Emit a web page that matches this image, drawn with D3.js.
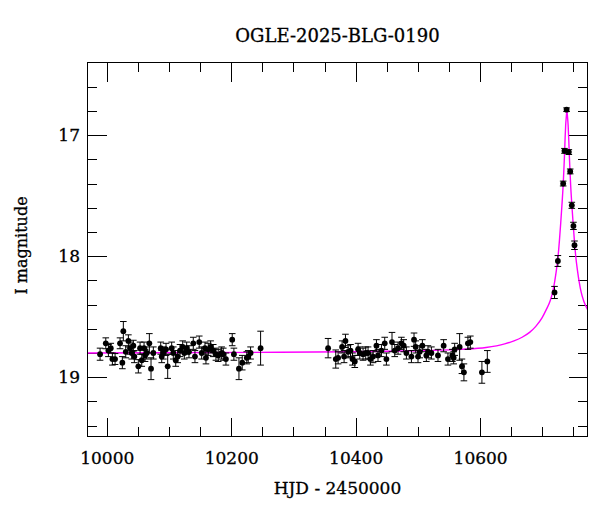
<!DOCTYPE html>
<html>
<head>
<meta charset="utf-8">
<script src="https://cdn.jsdelivr.net/npm/d3@7"></script>
<style>
  html, body { margin: 0; padding: 0; background: #fff; }
  svg { display: block; }
  text { font-family: "DejaVu Serif", "Liberation Serif", serif; fill: #000; stroke: #000; stroke-width: 0.3px; }
</style>
</head>
<body>
<svg id="chart" width="600" height="512"></svg>
<script>
// ---------- data ----------
const title = "OGLE-2025-BLG-0190";
const xLabel = "HJD - 2450000";
const yLabel = "I magnitude";

const xDomain = [9969, 10772.6];
const yDomain = [16.4, 19.49];

const xMajorTicks = [10000, 10200, 10400, 10600];
const xMinorTicks = [10050, 10100, 10150, 10250, 10300, 10350, 10450, 10500, 10550, 10650, 10700, 10750];
const yMajorTicks = [17, 18, 19];
const yMinorTicks = [16.6, 16.8, 17.2, 17.4, 17.6, 17.8, 18.2, 18.4, 18.6, 18.8, 19.2, 19.4];

// observation epochs (HJD - 2450000)
const obsTime = [
  9989.2, 9998.4, 10002.6, 10006.4, 10009.0, 10013.3, 10021.3, 10025.0, 10026.6, 10030.5,
  10034.7, 10037.4, 10040.1, 10042.7, 10044.3, 10050.7, 10053.5, 10056.2, 10059.9, 10061.5,
  10064.2, 10068.4, 10071.1, 10074.8, 10086.7, 10088.3, 10090.9, 10095.2, 10097.9, 10104.3,
  10106.9, 10110.8, 10114.0, 10117.7, 10122.0, 10124.6, 10128.4, 10132.1, 10139.0, 10141.7,
  10148.6, 10152.5, 10157.8, 10159.4, 10163.1, 10166.9, 10171.1, 10175.4, 10179.1, 10184.6,
  10187.2, 10191.5, 10201.6, 10204.3, 10212.4, 10217.7, 10225.0, 10227.3, 10231.1, 10247.2,
  10355.7, 10368.0, 10371.8, 10378.2, 10381.4, 10383.6, 10387.8, 10391.7, 10394.9, 10398.6,
  10403.9, 10406.6, 10411.9, 10416.2, 10419.9, 10423.7, 10427.9, 10433.4, 10435.9, 10441.4,
  10446.7, 10449.4, 10458.4, 10462.8, 10468.1, 10473.5, 10477.2, 10481.5, 10489.6, 10493.8,
  10496.5, 10500.2, 10502.9, 10507.2, 10513.6, 10516.2, 10521.7, 10532.3, 10541.4, 10548.3,
  10555.4, 10557.5, 10559.1, 10567.1, 10570.8, 10574.0, 10580.4, 10584.3, 10602.9, 10611.6,
  10719.6, 10725.0, 10733.5, 10735.6, 10739.0, 10742.6, 10744.8, 10747.4, 10750.0, 10751.7
];
// I-band magnitudes
const obsMag = [
  18.81, 18.72, 18.78, 18.76, 18.85, 18.85, 18.72, 18.88, 18.62, 18.79,
  18.70, 18.76, 18.80, 18.74, 18.83, 18.91, 18.76, 18.86, 18.76, 18.82,
  18.80, 18.72, 18.93, 18.80, 18.76, 18.83, 18.80, 18.77, 18.91, 18.76,
  18.80, 18.86, 18.83, 18.78, 18.75, 18.80, 18.76, 18.79, 18.72, 18.83,
  18.71, 18.80, 18.76, 18.84, 18.77, 18.75, 18.78, 18.81, 18.82, 18.80,
  18.81, 18.85, 18.69, 18.81, 18.93, 18.88, 18.84, 18.83, 18.80, 18.76,
  18.76, 18.85, 18.84, 18.75, 18.83, 18.70, 18.79, 18.78, 18.85, 18.87,
  18.77, 18.80, 18.81, 18.80, 18.80, 18.85, 18.83, 18.74, 18.82, 18.78,
  18.72, 18.85, 18.71, 18.78, 18.76, 18.72, 18.74, 18.80, 18.83, 18.69,
  18.75, 18.83, 18.79, 18.74, 18.82, 18.79, 18.80, 18.82, 18.74, 18.85,
  18.82, 18.84, 18.77, 18.75, 18.91, 18.96, 18.72, 18.71, 18.96, 18.87,
  18.30, 18.04, 17.40, 17.13, 16.79, 17.14, 17.30, 17.58, 17.75, 17.91
];
// 1-sigma errors (mag)
const obsErr = [
  0.05, 0.045, 0.05, 0.04, 0.05, 0.045, 0.045, 0.05, 0.08, 0.05,
  0.05, 0.05, 0.05, 0.045, 0.05, 0.055, 0.05, 0.05, 0.05, 0.05,
  0.05, 0.08, 0.09, 0.05, 0.05, 0.05, 0.05, 0.05, 0.10, 0.05,
  0.05, 0.05, 0.05, 0.05, 0.05, 0.05, 0.05, 0.05, 0.05, 0.05,
  0.05, 0.05, 0.05, 0.05, 0.05, 0.05, 0.05, 0.05, 0.05, 0.05,
  0.05, 0.05, 0.05, 0.05, 0.09, 0.06, 0.05, 0.05, 0.05, 0.14,
  0.08, 0.075, 0.05, 0.05, 0.05, 0.055, 0.05, 0.05, 0.05, 0.05,
  0.05, 0.05, 0.05, 0.05, 0.05, 0.05, 0.05, 0.05, 0.05, 0.05,
  0.05, 0.05, 0.08, 0.05, 0.05, 0.05, 0.05, 0.05, 0.05, 0.055,
  0.05, 0.05, 0.05, 0.05, 0.05, 0.05, 0.05, 0.05, 0.05, 0.05,
  0.05, 0.05, 0.05, 0.11, 0.06, 0.07, 0.05, 0.05, 0.09, 0.09,
  0.05, 0.045, 0.02, 0.02, 0.015, 0.02, 0.02, 0.025, 0.03, 0.035
];

// model light curve, sampled from the plotted curve
const modelTime = [
  9969, 10239.5, 10389.5, 10509.5, 10569.5, 10609.5, 10639.5, 10654.5, 10667.5, 10679.5,
  10689.5, 10699.5, 10706.5, 10712.5, 10716.5, 10719.5, 10722.5, 10725.5, 10727.5, 10729.5,
  10731.5, 10733.5, 10734.5, 10735.5, 10736.5, 10737.5, 10738.5, 10739.5,
  10740.5, 10741.5, 10742.5, 10743.5, 10744.5, 10745.5, 10747.5, 10749.5, 10751.5, 10753.5,
  10756.5, 10759.5, 10762.5, 10766.5, 10772.6
];
const modelMag = [
  18.80, 18.795, 18.79, 18.78, 18.77, 18.755, 18.725, 18.70, 18.67, 18.63,
  18.58, 18.51, 18.44, 18.37, 18.30, 18.22, 18.12, 17.99, 17.87, 17.73,
  17.58, 17.41, 17.30, 17.18, 17.04, 16.92, 16.85, 16.80,
  16.85, 16.92, 17.04, 17.18, 17.30, 17.41, 17.58, 17.73, 17.87, 17.99,
  18.12, 18.22, 18.30, 18.37, 18.44
];

// ---------- drawing ----------
const svg = d3.select("#chart");
const pLeft = 87.5, pRight = 587.5, pTop = 62.5, pBottom = 436.5;

const x = d3.scaleLinear().domain(xDomain).range([pLeft, pRight]);
const y = d3.scaleLinear().domain(yDomain).range([pTop, pBottom]);

svg.append("defs").append("clipPath").attr("id", "clip")
  .append("rect").attr("x", pLeft).attr("y", pTop)
  .attr("width", pRight - pLeft).attr("height", pBottom - pTop);

const FONT = 17;

function styleAxis(g) {
  g.select(".domain").remove();
  g.selectAll(".tick line").attr("stroke", "#000").attr("shape-rendering", "crispEdges");
  g.selectAll(".tick text").style("font-family", '"DejaVu Serif", serif').style("font-size", FONT + "px")
    .attr("fill", "#000").attr("stroke", "#000").attr("stroke-width", 0.3);
}

svg.append("g").attr("transform", `translate(0,${pBottom})`)
  .call(d3.axisBottom(x).tickValues(xMajorTicks).tickSize(-19).tickPadding(15).tickFormat(d3.format("d")))
  .call(styleAxis);
svg.append("g").attr("transform", `translate(0,${pBottom})`)
  .call(d3.axisBottom(x).tickValues(xMinorTicks).tickSize(-9.5).tickFormat(""))
  .call(styleAxis);
svg.append("g").attr("transform", `translate(0,${pTop})`)
  .call(d3.axisTop(x).tickValues(xMajorTicks).tickSize(-19).tickFormat(""))
  .call(styleAxis);
svg.append("g").attr("transform", `translate(0,${pTop})`)
  .call(d3.axisTop(x).tickValues(xMinorTicks).tickSize(-9.5).tickFormat(""))
  .call(styleAxis);

svg.append("g").attr("transform", `translate(${pLeft},0)`)
  .call(d3.axisLeft(y).tickValues(yMajorTicks).tickSize(-19).tickPadding(7.5).tickFormat(d3.format("d")))
  .call(styleAxis);
svg.append("g").attr("transform", `translate(${pLeft},0)`)
  .call(d3.axisLeft(y).tickValues(yMinorTicks).tickSize(-9.5).tickFormat(""))
  .call(styleAxis);
svg.append("g").attr("transform", `translate(${pRight},0)`)
  .call(d3.axisRight(y).tickValues(yMajorTicks).tickSize(-19).tickFormat(""))
  .call(styleAxis);
svg.append("g").attr("transform", `translate(${pRight},0)`)
  .call(d3.axisRight(y).tickValues(yMinorTicks).tickSize(-9.5).tickFormat(""))
  .call(styleAxis);

// model curve
const line = d3.line()
  .x((d, i) => x(modelTime[i]))
  .y((d, i) => y(modelMag[i]))
  .curve(d3.curveMonotoneX);
svg.append("path")
  .datum(modelTime)
  .attr("clip-path", "url(#clip)")
  .attr("d", line)
  .attr("fill", "none")
  .attr("stroke", "#ff00ff")
  .attr("stroke-width", 1.4);

// data with error bars
const obs = obsTime.map((t, i) => ({ t, m: obsMag[i], e: obsErr[i] }));
const capW = 3.3;
const eb = svg.append("g").attr("stroke", "#000").attr("stroke-width", 1);
obs.forEach(d => {
  const cx = x(d.t), y1 = y(d.m - d.e), y2 = y(d.m + d.e);
  eb.append("line").attr("x1", cx).attr("x2", cx).attr("y1", y1).attr("y2", y2);
  eb.append("line").attr("x1", cx - capW).attr("x2", cx + capW).attr("y1", y1).attr("y2", y1);
  eb.append("line").attr("x1", cx - capW).attr("x2", cx + capW).attr("y1", y2).attr("y2", y2);
});
svg.append("g").selectAll("circle").data(obs).join("circle")
  .attr("cx", d => x(d.t))
  .attr("cy", d => y(d.m))
  .attr("r", 2.9)
  .attr("fill", "#000");

// frame
svg.append("rect")
  .attr("x", pLeft).attr("y", pTop)
  .attr("width", pRight - pLeft).attr("height", pBottom - pTop)
  .attr("fill", "none").attr("stroke", "#000").attr("stroke-width", 1)
  .attr("shape-rendering", "crispEdges");

// title & labels
svg.append("text")
  .attr("x", (pLeft + pRight) / 2).attr("y", 42)
  .attr("text-anchor", "middle")
  .style("font-size", "18px")
  .text(title);

svg.append("text")
  .attr("x", (pLeft + pRight) / 2).attr("y", 494)
  .attr("text-anchor", "middle")
  .style("font-size", FONT + "px")
  .text(xLabel);

svg.append("text")
  .attr("transform", `translate(27,${(pTop + pBottom) / 2 - 4}) rotate(-90)`)
  .attr("text-anchor", "middle")
  .style("font-size", "16px")
  .text(yLabel);
</script>
</body>
</html>
